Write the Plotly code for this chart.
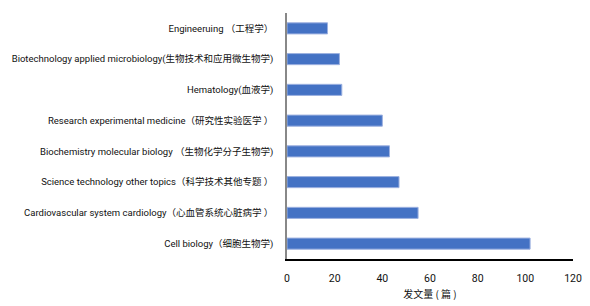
import plotly.graph_objects as go

categories = [
    "Cell biology（细胞生物学)",
    "Cardiovascular system cardiology（心血管系统心脏病学 ）",
    "Science technology other topics（科学技术其他专题 ）",
    "Biochemistry molecular biology （生物化学分子生物学)",
    "Research experimental medicine（研究性实验医学 ）",
    "Hematology(血液学)",
    "Biotechnology applied microbiology(生物技术和应用微生物学)",
    "Engineeruing （工程学）",
]
values = [102, 55, 47, 43, 40, 23, 22, 17]
x_ticks = [0, 20, 40, 60, 80, 100, 120]

fig = go.Figure(go.Bar(
    y=categories, x=values, orientation="h",
    marker=dict(color="#4472C4", line=dict(color="#9DB1E0", width=1)),
))
fig.update_layout(
    width=590, height=306,
    margin=dict(l=287, r=17, t=13, b=47),
    plot_bgcolor="white", paper_bgcolor="white",
    bargap=0.64, showlegend=False,
    font=dict(family="Roboto, Noto Sans CJK SC, sans-serif", size=9.5, color="#111"),
)
fig.update_xaxes(
    range=[0, 120], tickvals=x_ticks, showgrid=False, zeroline=False,
    showline=True, linecolor="black", linewidth=1.5, automargin=False,
    ticks="", ticklabelstandoff=9, tickfont=dict(family="Roboto, sans-serif", size=10.5),
    title=dict(text="发文量 ( 篇 )", font=dict(family="Noto Sans CJK SC", size=10), standoff=7),
)
fig.update_yaxes(
    showgrid=False, zeroline=False, showline=True, linecolor="#888", linewidth=1.5,
    automargin=False, ticks="", ticklabelstandoff=10, tickfont=dict(size=9.5),
)
fig.write_html("out.html", config={"displayModeBar": False},
               post_script="document.body.style.margin='0px';")
